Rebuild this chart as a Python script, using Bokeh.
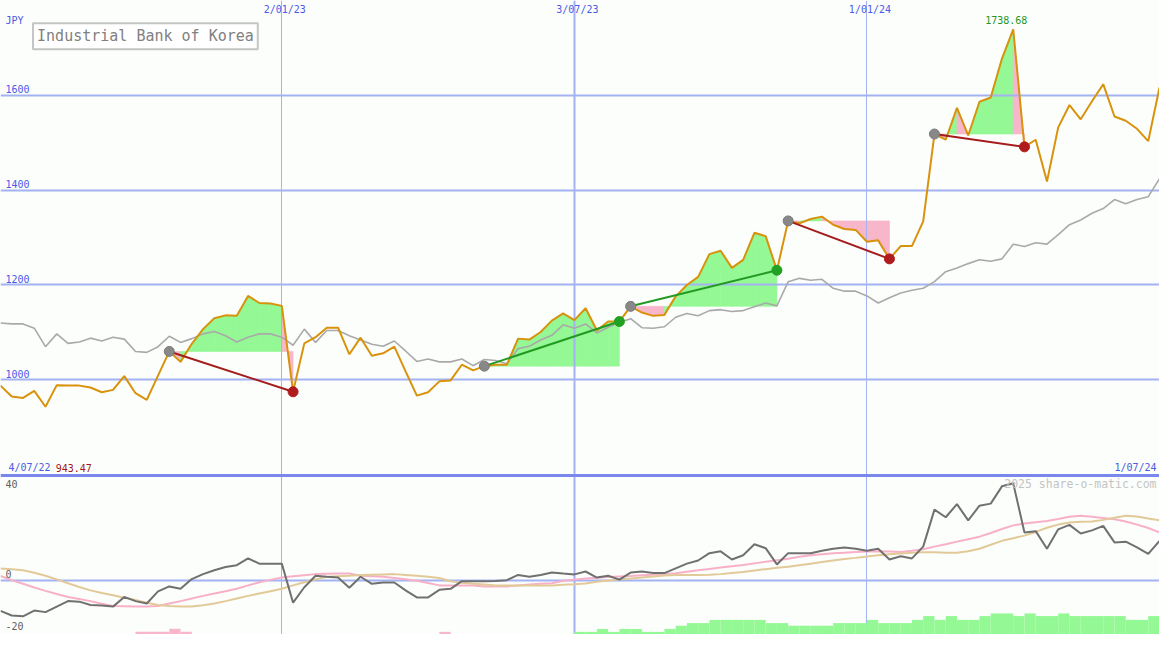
import pandas as pd
from bokeh.plotting import figure
from bokeh.models import Range1d, Label, Grid, FixedTicker
from bokeh.embed import file_html
from bokeh.resources import INLINE

# ---------------- data ----------------
week_dates = pd.date_range("2022-07-11", periods=104, freq="7D")

price = [988, 965, 962, 977, 943.47, 989, 988, 988, 984, 974,
         979, 1008, 972, 958, 1009, 1060, 1038, 1076, 1107, 1130,
         1136, 1135, 1177, 1162, 1161, 1156, 975, 1077, 1090, 1110,
         1110, 1054, 1089, 1051, 1056, 1070, 1018, 967, 974, 997,
         999, 1032, 1020, 1029, 1032, 1032, 1087, 1085, 1101, 1125,
         1140, 1126, 1151, 1104, 1123, 1123, 1155, 1142, 1135, 1137,
         1176, 1200, 1217, 1265, 1272, 1236, 1253, 1310, 1303, 1231,
         1335, 1330, 1339, 1344, 1327, 1318, 1316, 1291, 1294, 1255,
         1282, 1282, 1334, 1518, 1506, 1573, 1515, 1586, 1595, 1677,
         1738.68, 1491, 1506, 1418, 1532, 1579, 1549, 1587, 1623, 1555,
         1546, 1529, 1503, 1616]

benchmark = [1120, 1118, 1118, 1109, 1070, 1097, 1077, 1080, 1088, 1082,
             1090, 1086, 1060, 1058, 1070, 1092, 1079, 1087, 1097, 1102,
             1093, 1080, 1090, 1097, 1097, 1090, 1073, 1107, 1079, 1104,
             1104, 1093, 1084, 1075, 1071, 1082, 1061, 1039, 1044, 1038,
             1038, 1044, 1030, 1043, 1041, 1034, 1066, 1071, 1084, 1094,
             1116, 1109, 1118, 1099, 1111, 1121, 1129, 1110, 1109, 1112,
             1132, 1140, 1135, 1146, 1148, 1144, 1146, 1154, 1162, 1156,
             1207, 1214, 1210, 1212, 1193, 1187, 1187, 1177, 1162, 1173,
             1183, 1189, 1193, 1207, 1228, 1236, 1245, 1253, 1250, 1255,
             1286, 1281, 1289, 1286, 1306, 1327, 1337, 1351, 1361, 1380,
             1371, 1380, 1386, 1424]

momentum = [-11.7, -13.5, -13.8, -11.6, -12.2, -10.1, -8.0, -8.2, -9.5, -9.7,
            -10.1, -6.4, -8.0, -8.9, -4.3, -2.4, -3.3, 0.4, 2.3, 3.8,
            5.0, 5.7, 8.3, 6.3, 6.3, 6.3, -8.6, -2.7, 1.7, 1.3,
            1.0, -2.9, 1.3, -1.4, -0.9, -0.9, -3.9, -6.6, -6.6, -3.7,
            -3.3, -0.4, -0.4, -0.4, -0.3, 0.0, 2.0, 1.3, 2.0, 2.9,
            2.5, 2.2, 3.3, 1.0, 1.7, 0.2, 2.9, 3.3, 2.7, 2.7,
            4.5, 6.3, 7.5, 10.3, 11.0, 7.9, 9.5, 13.7, 12.2, 6.0,
            10.3, 10.3, 10.3, 11.2, 12.0, 12.5, 12.0, 11.2, 12.0, 7.9,
            9.1, 8.3, 12.8, 26.9, 24.0, 29.0, 22.8, 28.4, 29.2, 35.8,
            37.0, 18.2, 18.7, 12.0, 19.4, 21.1, 17.8, 19.0, 20.7, 14.4,
            14.7, 12.5, 10.0, 15.0]

avg_fast = [1.6, 0.0, -1.4, -2.8, -4.1, -5.3, -6.4, -7.2, -8.0, -9.0,
            -9.9, -10.0, -10.1, -10.1, -9.9, -8.9, -8.0, -7.0, -6.0, -5.1,
            -4.2, -3.3, -2.0, -0.8, 0.1, 1.0, 1.5, 1.9, 2.3, 2.4,
            2.5, 2.5, 1.7, 1.5, 1.3, 0.8, 0.3, -0.2, -1.1, -2.0,
            -2.0, -2.0, -2.0, -2.4, -2.4, -2.4, -2.0, -1.7, -1.4, -1.2,
            -0.2, 0.2, 0.6, 0.9, 1.2, 1.4, 1.6, 1.9, 2.1, 2.3,
            2.6, 3.2, 3.8, 4.3, 4.8, 5.3, 5.8, 6.4, 7.0, 7.6,
            8.2, 8.9, 9.5, 9.9, 10.3, 10.5, 10.7, 10.9, 11.0, 10.9,
            10.7, 11.2, 11.8, 12.8, 13.7, 14.7, 15.6, 16.6, 18.0, 19.5,
            20.9, 21.6, 22.1, 22.6, 23.3, 24.2, 24.6, 24.2, 23.7, 23.2,
            22.4, 21.2, 19.9, 18.2]

avg_slow = [4.4, 4.2, 3.8, 2.8, 1.7, 0.3, -1.2, -2.6, -3.9, -4.9,
            -5.8, -6.7, -7.6, -8.6, -9.5, -9.9, -10.1, -10.1, -9.6, -8.9,
            -8.0, -7.0, -6.0, -5.1, -4.2, -3.3, -2.0, -0.8, 0.3, 1.3,
            1.5, 1.7, 2.0, 2.1, 2.2, 2.3, 2.0, 1.7, 1.3, 0.8,
            -0.4, -1.0, -1.4, -1.7, -2.0, -2.0, -2.0, -2.0, -2.0, -2.0,
            -1.8, -1.6, -1.3, -0.6, -0.1, 0.3, 0.6, 1.0, 1.4, 1.8,
            2.0, 2.0, 2.0, 2.1, 2.3, 2.7, 3.1, 3.7, 4.2, 4.7,
            5.1, 5.7, 6.3, 6.9, 7.5, 8.1, 8.5, 9.0, 9.5, 9.9,
            10.2, 10.5, 10.6, 10.6, 10.5, 10.5, 11.0, 12.0, 13.5, 15.0,
            16.0, 17.0, 18.4, 20.0, 21.2, 22.0, 22.3, 22.4, 23.0, 23.8,
            24.6, 24.3, 23.5, 22.8]

buy_weeks = [15, 43, 56, 70, 83]
sell_weeks = [26, 55, 69, 79, 91]

gain_bar_weeks = list(range(51, 103))
gain_bar_vals = [0.9, 0.9, 1.9, 0.9, 1.9, 1.9, 0.9, 0.9, 1.9, 3.0,
                 3.9, 3.9, 5.0, 5.0, 5.0, 5.0, 5.0, 3.9, 3.9, 3.0,
                 3.0, 3.0, 3.0, 3.9, 3.9, 3.9, 5.0, 3.9, 3.9, 3.9,
                 5.0, 6.3, 5.0, 6.3, 5.0, 5.0, 6.3, 7.2, 7.2, 6.3,
                 7.2, 6.3, 6.3, 7.2, 6.3, 6.3, 6.3, 6.3, 6.3, 5.0,
                 5.0, 6.3]
loss_bar_weeks = [12, 13, 14, 15, 16, 39]
loss_bar_vals = [0.9, 0.9, 0.9, 2.0, 0.9, 0.9]

date_ticks = ["2023-01-02", "2023-07-03", "2024-01-01"]
date_tick_labels = ["2/01/23", "3/07/23", "1/01/24"]
price_ticks = [1000, 1200, 1400, 1600]
osc_ticks = [40, 0, -20]

title_text = "Industrial Bank of Korea"
currency = "JPY"
start_label, end_label = "4/07/22", "1/07/24"
low_label, high_label = "943.47", "1738.68"
credit = "2025 share-o-matic.com"

# ---------------- styling ----------------
FONT = "DejaVu Sans Mono"
BG = "#fcfefc"
GRID = "#a4b2f2"
DIVIDER = "#7a88ee"
AXIS_TXT = "#4a5ae6"
ORANGE = "#d8920c"
BENCH = "#a9a9a9"
GAIN_FILL = "#94f894"
LOSS_FILL = "#f8b6ca"
WIN_LINE = "#229a22"
LOSS_LINE = "#a41c1c"

W, H = 1159, 634
REF_W, REF_H = 1175, 650
Y0, Y1 = 463.7, 1799.3
TXT_DY = 4  # baseline correction (reference px)


def ms(d):
    return pd.Timestamp(d).value / 1e6


x = [ms(d) for d in week_dates]
X0, X1 = x[0], x[-1]
WEEK = 7 * 86400000.0


def X(px):
    return X0 + (X1 - X0) * px / REF_W


def Y(py):
    return Y1 - (Y1 - Y0) * (py - TXT_DY) / REF_H


p = figure(width=W, height=H, output_backend="svg", toolbar_location=None,
           x_range=Range1d(X0, X1), y_range=Range1d(Y0, Y1),
           x_axis_location=None, y_axis_location=None,
           min_border=0, background_fill_color=BG, border_fill_color=BG,
           outline_line_color=None)
p.grid.visible = False
p.extra_y_ranges = {"osc": Range1d(-20.74, 221.2), "bars": Range1d(0, REF_H / 3)}

# trade fills (below grid)
fxs, fys, fcs = [], [], []
for b, s in zip(buy_weeks, sell_weeks):
    lvl = price[b]
    for k in range(b, s):
        fxs.append([x[k], x[k], x[k + 1], x[k + 1]])
        fys.append([lvl, price[k], price[k + 1], lvl])
        fcs.append(GAIN_FILL if price[k + 1] >= lvl else LOSS_FILL)
p.patches(xs=fxs, ys=fys, fill_color=fcs, line_color=fcs, line_width=0.6, level="image")

# grids
p.add_layout(Grid(dimension=1, ticker=FixedTicker(ticks=price_ticks),
                  grid_line_color=GRID, grid_line_width=2))
p.add_layout(Grid(dimension=1, y_range_name="osc", ticker=FixedTicker(ticks=[0]),
                  grid_line_color=GRID, grid_line_width=2))
tick_ms = [ms(d) for d in date_ticks]
p.add_layout(Grid(dimension=0, ticker=FixedTicker(ticks=[tick_ms[0], tick_ms[2]]),
                  grid_line_color=GRID, grid_line_width=1))
p.add_layout(Grid(dimension=0, ticker=FixedTicker(ticks=[tick_ms[1]]),
                  grid_line_color=GRID, grid_line_width=2))
p.add_layout(Grid(dimension=1, y_range_name="osc", ticker=FixedTicker(ticks=[osc_ticks[0]]),
                  grid_line_color=DIVIDER, grid_line_width=3))

# lower panel bars
p.vbar(x=[x[k] + WEEK / 2 for k in gain_bar_weeks], width=WEEK, bottom=0, top=gain_bar_vals,
       y_range_name="bars", fill_color=GAIN_FILL, line_color=None)
p.vbar(x=[x[k] + WEEK / 2 for k in loss_bar_weeks], width=WEEK, bottom=0, top=loss_bar_vals,
       y_range_name="bars", fill_color=LOSS_FILL, line_color=None)

# oscillator lines
p.line(x, avg_fast, y_range_name="osc", line_color="#f8b0c8", line_width=2)
p.line(x, avg_slow, y_range_name="osc", line_color="#e2ca98", line_width=2)
p.line(x, momentum, y_range_name="osc", line_color="#707070", line_width=2)

# price panel lines
p.line(x, benchmark, line_color=BENCH, line_width=1.6)
p.line(x, price, line_color=ORANGE, line_width=2)

# trades
seg_col = [WIN_LINE if price[s] > price[b] else LOSS_LINE for b, s in zip(buy_weeks, sell_weeks)]
p.segment(x0=[x[b] for b in buy_weeks], y0=[price[b] for b in buy_weeks],
          x1=[x[s] for s in sell_weeks], y1=[price[s] for s in sell_weeks],
          line_color=seg_col, line_width=2)
p.scatter([x[b] for b in buy_weeks], [price[b] for b in buy_weeks], size=10,
          fill_color="#888888", line_color="#7a7a7a")
dot_col = ["#22a022" if price[s] > price[b] else "#b01c1c" for b, s in zip(buy_weeks, sell_weeks)]
p.scatter([x[s] for s in sell_weeks], [price[s] for s in sell_weeks], size=10,
          fill_color=dot_col, line_color=dot_col)


def lab(xv, yv, text, color, size="10px", align="left", xo=0, yo=0, **kw):
    p.add_layout(Label(x=xv, y=yv, text=text, text_font=FONT, text_font_size=size,
                       text_color=color, text_align=align, text_baseline="alphabetic",
                       x_offset=xo, y_offset=yo, **kw))


# texts
lab(X(5), Y(25), currency, AXIS_TXT)
for t in price_ticks:
    lab(X(5), t, str(t), AXIS_TXT, yo=6)
for d, t in zip(tick_ms, date_tick_labels):
    lab(d, Y(13), t, AXIS_TXT, align="center", xo=3)
imax = price.index(max(price))
lab(x[imax], price[imax], high_label, "#1f961f", align="center", xo=-7, yo=9)
lab(X(8), Y(483), start_label, AXIS_TXT)
lab(X(56), Y(483), low_label, "#a01818")
lab(X(1172), Y(483), end_label, AXIS_TXT, align="right")
lab(X(1172), Y(500), credit, "#c4c4c4", size="11.5px", align="right")
lab(X(5), Y(499.5), str(osc_ticks[0]), "#606060")
lab(X(5), Y(591.5), str(osc_ticks[1]), "#606060")
lab(X(5), Y(645.5), str(osc_ticks[2]), "#606060")

p.add_layout(Label(x=X(33), y=Y(40.6), text=title_text, text_font=FONT, text_font_size="15px",
                   text_color="#808080", text_baseline="alphabetic",
                   border_line_color="#c4c4c4", border_line_width=2,
                   background_fill_color="#ffffff", padding=4))

open("out.html", "w").write(file_html(p, INLINE))
